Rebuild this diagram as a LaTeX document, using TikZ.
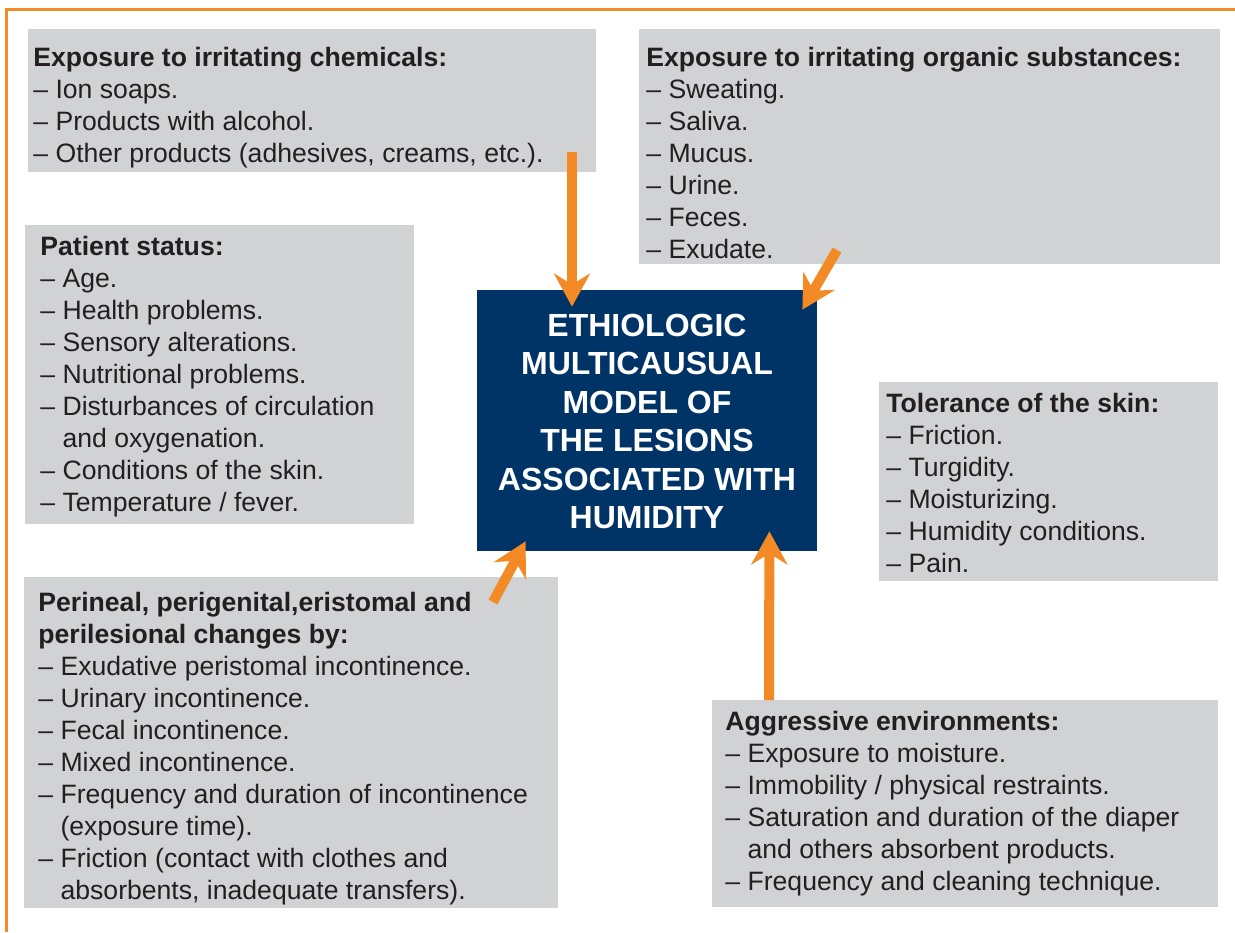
\documentclass[tikz,border=0pt]{standalone}
\usepackage{fontspec}
\setmainfont{Liberation Sans}
\usetikzlibrary{arrows.meta,calc}
\definecolor{boxgray}{HTML}{D1D2D4}
\definecolor{navy}{HTML}{003366}
\definecolor{flame}{HTML}{F48A25}
\definecolor{ink}{HTML}{231F20}

\begin{document}
\begin{tikzpicture}[x=0.5pt,y=-0.5pt,
  panel/.style = {fill=boxgray, inner sep=0, anchor=north west},
  items/.style = {anchor=north west, inner sep=0, align=left, text=ink, font=\fontsize{13.3}{16}\selectfont},
  flow/.style = {draw=flame, line width=5pt, -{Stealth[length=16.5pt,width=18pt,inset=5.5pt]}}]
\useasboundingbox (0,0) rectangle (1235,932);
\draw[flame, line width=1.5pt] (6.3,932) -- (6.3,9.5) -- (1235,9.5);

\node[panel, minimum width=284pt, minimum height=71.5pt] (chembox) at (28,29) {};
\node[panel, minimum width=290.5pt, minimum height=117.5pt] (organicbox) at (639,29) {};
\node[panel, minimum width=194.5pt, minimum height=149.5pt] (patientbox) at (25,225) {};
\node[panel, minimum width=169.5pt, minimum height=99.5pt] (skinbox) at (879,382) {};
\node[panel, minimum width=267pt, minimum height=165.5pt] (perineumbox) at (24,577) {};
\node[panel, minimum width=253pt, minimum height=103.5pt] (environbox) at (712,700) {};

\node[items] (chem) at (33,47) {\textbf{Exposure to irritating chemicals:}\\
– Ion soaps.\\
– Products with alcohol.\\
– Other products (adhesives, creams, etc.).};
\node[items] (organic) at (646,47) {\textbf{Exposure to irritating organic substances:}\\
– Sweating.\\
– Saliva.\\
– Mucus.\\
– Urine.\\
– Feces.\\
– Exudate.};
\node[items] (patient) at (40,235.5) {\textbf{Patient status:}\\
– Age.\\
– Health problems.\\
– Sensory alterations.\\
– Nutritional problems.\\
– Disturbances of circulation\\
\phantom{– }and oxygenation.\\
– Conditions of the skin.\\
– Temperature / fever.};
\node[items] (skin) at (886,392.5) {\textbf{Tolerance of the skin:}\\
– Friction.\\
– Turgidity.\\
– Moisturizing.\\
– Humidity conditions.\\
– Pain.};
\node[items] (perineum) at (38,591.5) {\textbf{Perineal, perigenital,eristomal and}\\
\textbf{perilesional changes by:}\\
– Exudative peristomal incontinence.\\
– Urinary incontinence.\\
– Fecal incontinence.\\
– Mixed incontinence.\\
– Frequency and duration of incontinence\\
\phantom{– }(exposure time).\\
– Friction (contact with clothes and\\
\phantom{– }absorbents, inadequate transfers).};
\node[items] (environ) at (725,710.5) {\textbf{Aggressive environments:}\\
– Exposure to moisture.\\
– Immobility / physical restraints.\\
– Saturation and duration of the diaper\\
\phantom{– }and others absorbent products.\\
– Frequency and cleaning technique.};

\node[fill=navy, minimum width=170pt, minimum height=130.5pt, inner sep=0, align=center, text=white,
  font=\bfseries\fontsize{16}{19.25}\selectfont] (model) at (647,420.5)
  {\rule{0pt}{12pt}ETHIOLOGIC\\MULTICAUSUAL\\MODEL OF\\THE LESIONS\\ASSOCIATED WITH\\HUMIDITY};

\coordinate (chemout) at (572,152);
\coordinate (organicout) at (837,250);
\coordinate (perineumout) at (493,602);
\coordinate (environout) at (769,700);
\draw[flow] (chemout) -- ($(model.north)+(-75,17)$);
\draw[flow] (organicout) -- ($(model.north east)+(-15,20)$);
\draw[flow] (perineumout) -- ($(model.south west)+(49,-10)$);
\draw[flow] (environout) -- ($(model.south east)+(-48,-20)$);
\end{tikzpicture}
\end{document}
